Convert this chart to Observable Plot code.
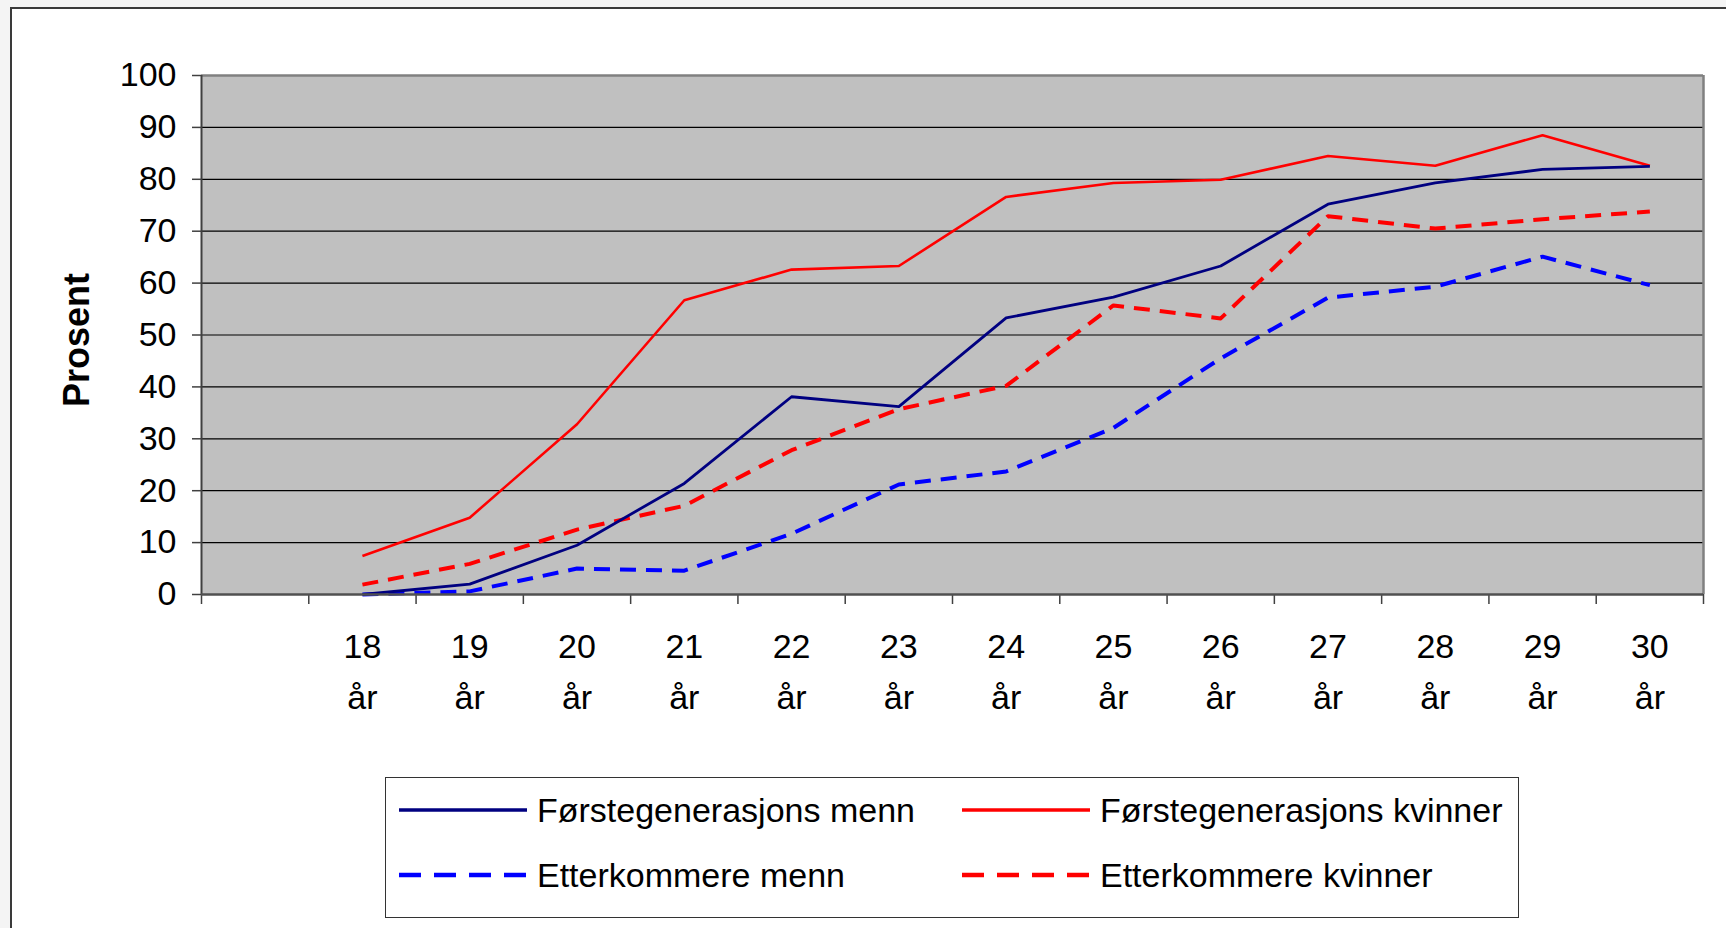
<!DOCTYPE html>
<html><head><meta charset="utf-8">
<script src="https://cdn.jsdelivr.net/npm/d3@7"></script>
<script src="https://cdn.jsdelivr.net/npm/@observablehq/plot@0.6"></script>
<style>
html,body{margin:0;padding:0}
body{background:#f4f4f4;width:1726px;height:928px;overflow:hidden;position:relative;font-family:"Liberation Sans",Arial,sans-serif}
#frame{position:absolute;left:10px;top:7px;width:1800px;height:1000px;border:2px solid #3a3a3a;background:#fff}
#chart{position:absolute;left:0;top:0}
#legend{position:absolute;left:385px;top:777px;width:1132px;height:139px;border:1.5px solid #333;background:#fff}
.item{position:absolute;height:44px;display:flex;align-items:center;font-size:34px;color:#000;white-space:nowrap}
.item svg{margin-right:10px}
</style></head>
<body>
<div id="frame"></div>
<div id="chart"></div>
<div id="legend"></div>
<script>
// ---- data ----
const ages = [18, 19, 20, 21, 22, 23, 24, 25, 26, 27, 28, 29, 30];
const categories = ["", ...ages.map(a => `${a}\når`)]; // first category is blank
const yTicks = [0, 10, 20, 30, 40, 50, 60, 70, 80, 90, 100];
const seriesNames = ["Førstegenerasjons menn", "Førstegenerasjons kvinner", "Etterkommere menn", "Etterkommere kvinner"];
const forsteMenn    = [0, 2, 9.5, 21.4, 38.1, 36.2, 53.3, 57.3, 63.3, 75.2, 79.3, 81.9, 82.5];
const forsteKvinner = [7.4, 14.8, 32.8, 56.7, 62.6, 63.3, 76.6, 79.3, 79.9, 84.5, 82.6, 88.5, 82.6];
const etterMenn     = [0, 0.6, 5, 4.6, 11.7, 21.2, 23.7, 32.1, 45.5, 57.2, 59.3, 65.1, 59.6];
const etterKvinner  = [1.9, 5.9, 12.5, 17.1, 27.8, 35.7, 40.2, 55.7, 53.2, 72.9, 70.5, 72.3, 73.8];
const seriesValues = [forsteMenn, forsteKvinner, etterMenn, etterKvinner];

// ---- styles ----
const seriesStyle = [
  {stroke: "#000080", strokeWidth: 2.8, dash: null},
  {stroke: "#ff0000", strokeWidth: 2.6, dash: null},
  {stroke: "#0000ff", strokeWidth: 4, dash: "16,10"},
  {stroke: "#ff0000", strokeWidth: 4, dash: "16,10"}
];
const drawOrder = [2, 3, 1, 0];

const N = categories.length;
const xOf = label => categories.indexOf(label) + 0.5;

const rows = [];
seriesNames.forEach((name, s) => {
  seriesValues[s].forEach((v, i) => rows.push({series: name, x: xOf(`${ages[i]}\når`), y: v}));
});

const lineMarks = drawOrder.map(s => Plot.line(rows.filter(r => r.series === seriesNames[s]), {
  x: "x", y: "y",
  stroke: seriesStyle[s].stroke,
  strokeWidth: seriesStyle[s].strokeWidth,
  strokeDasharray: seriesStyle[s].dash,
  strokeLinecap: "butt",
  strokeLinejoin: "round"
}));

const chart = Plot.plot({
  width: 1726,
  height: 760,
  marginLeft: 201,
  marginRight: 23,
  marginTop: 75,
  marginBottom: 166,
  style: {fontFamily: "'Liberation Sans', Arial, sans-serif", background: "transparent", color: "#000"},
  x: {type: "linear", domain: [0, N], axis: null},
  y: {domain: [0, 100], axis: null},
  marks: [
    Plot.frame({fill: "#c0c0c0", stroke: null}),
    Plot.ruleY(yTicks.filter(t => t > 0 && t < 100), {stroke: "#000", strokeWidth: 1.2}),
    Plot.ruleY([100], {stroke: "#808080", strokeWidth: 2.5}),
    Plot.ruleX([N], {stroke: "#808080", strokeWidth: 2.5}),
    Plot.ruleX([0], {stroke: "#404040", strokeWidth: 2}),
    Plot.axisY(yTicks, {tickSize: 9, tickPadding: 16, fontSize: 34, label: null, stroke: "#404040", strokeWidth: 1.5}),
    Plot.axisX(d3.range(0, N + 1), {tickSize: 10, tickFormat: () => "", label: null, stroke: "#404040", strokeWidth: 1.5}),
    ...lineMarks,
    Plot.ruleY([0], {stroke: "#505050", strokeWidth: 2.5}),
    Plot.text(categories.slice(1), {x: d => xOf(d), y: 0, text: d => d, dy: 27, lineAnchor: "top", lineHeight: 1.5, fontSize: 34, fill: "#000"}),
    Plot.text(["Prosent"], {frameAnchor: "left", textAnchor: "middle", rotate: -90, dx: -124, dy: 5, fontWeight: "bold", fontSize: 36, fill: "#000"})
  ]
});
document.getElementById("chart").appendChild(chart);

// ---- legend ----
const legend = document.getElementById("legend");
const legendPos = [
  {left: 13, top: 10}, {left: 576, top: 10},
  {left: 13, top: 75}, {left: 576, top: 75}
];
seriesNames.forEach((name, s) => {
  const item = document.createElement("div");
  item.className = "item";
  item.style.left = legendPos[s].left + "px";
  item.style.top = legendPos[s].top + "px";
  const st = seriesStyle[s];
  const ns = "http://www.w3.org/2000/svg";
  const svg = document.createElementNS(ns, "svg");
  svg.setAttribute("width", 128); svg.setAttribute("height", 20);
  const ln = document.createElementNS(ns, "line");
  ln.setAttribute("x1", 0); ln.setAttribute("x2", 128);
  ln.setAttribute("y1", 10); ln.setAttribute("y2", 10);
  ln.setAttribute("stroke", st.stroke);
  ln.setAttribute("stroke-width", st.dash ? 4.5 : 3.5);
  if (st.dash) ln.setAttribute("stroke-dasharray", "22,13");
  svg.appendChild(ln);
  item.appendChild(svg);
  const t = document.createElement("span");
  t.textContent = name;
  item.appendChild(t);
  legend.appendChild(item);
});
</script>
</body></html>
